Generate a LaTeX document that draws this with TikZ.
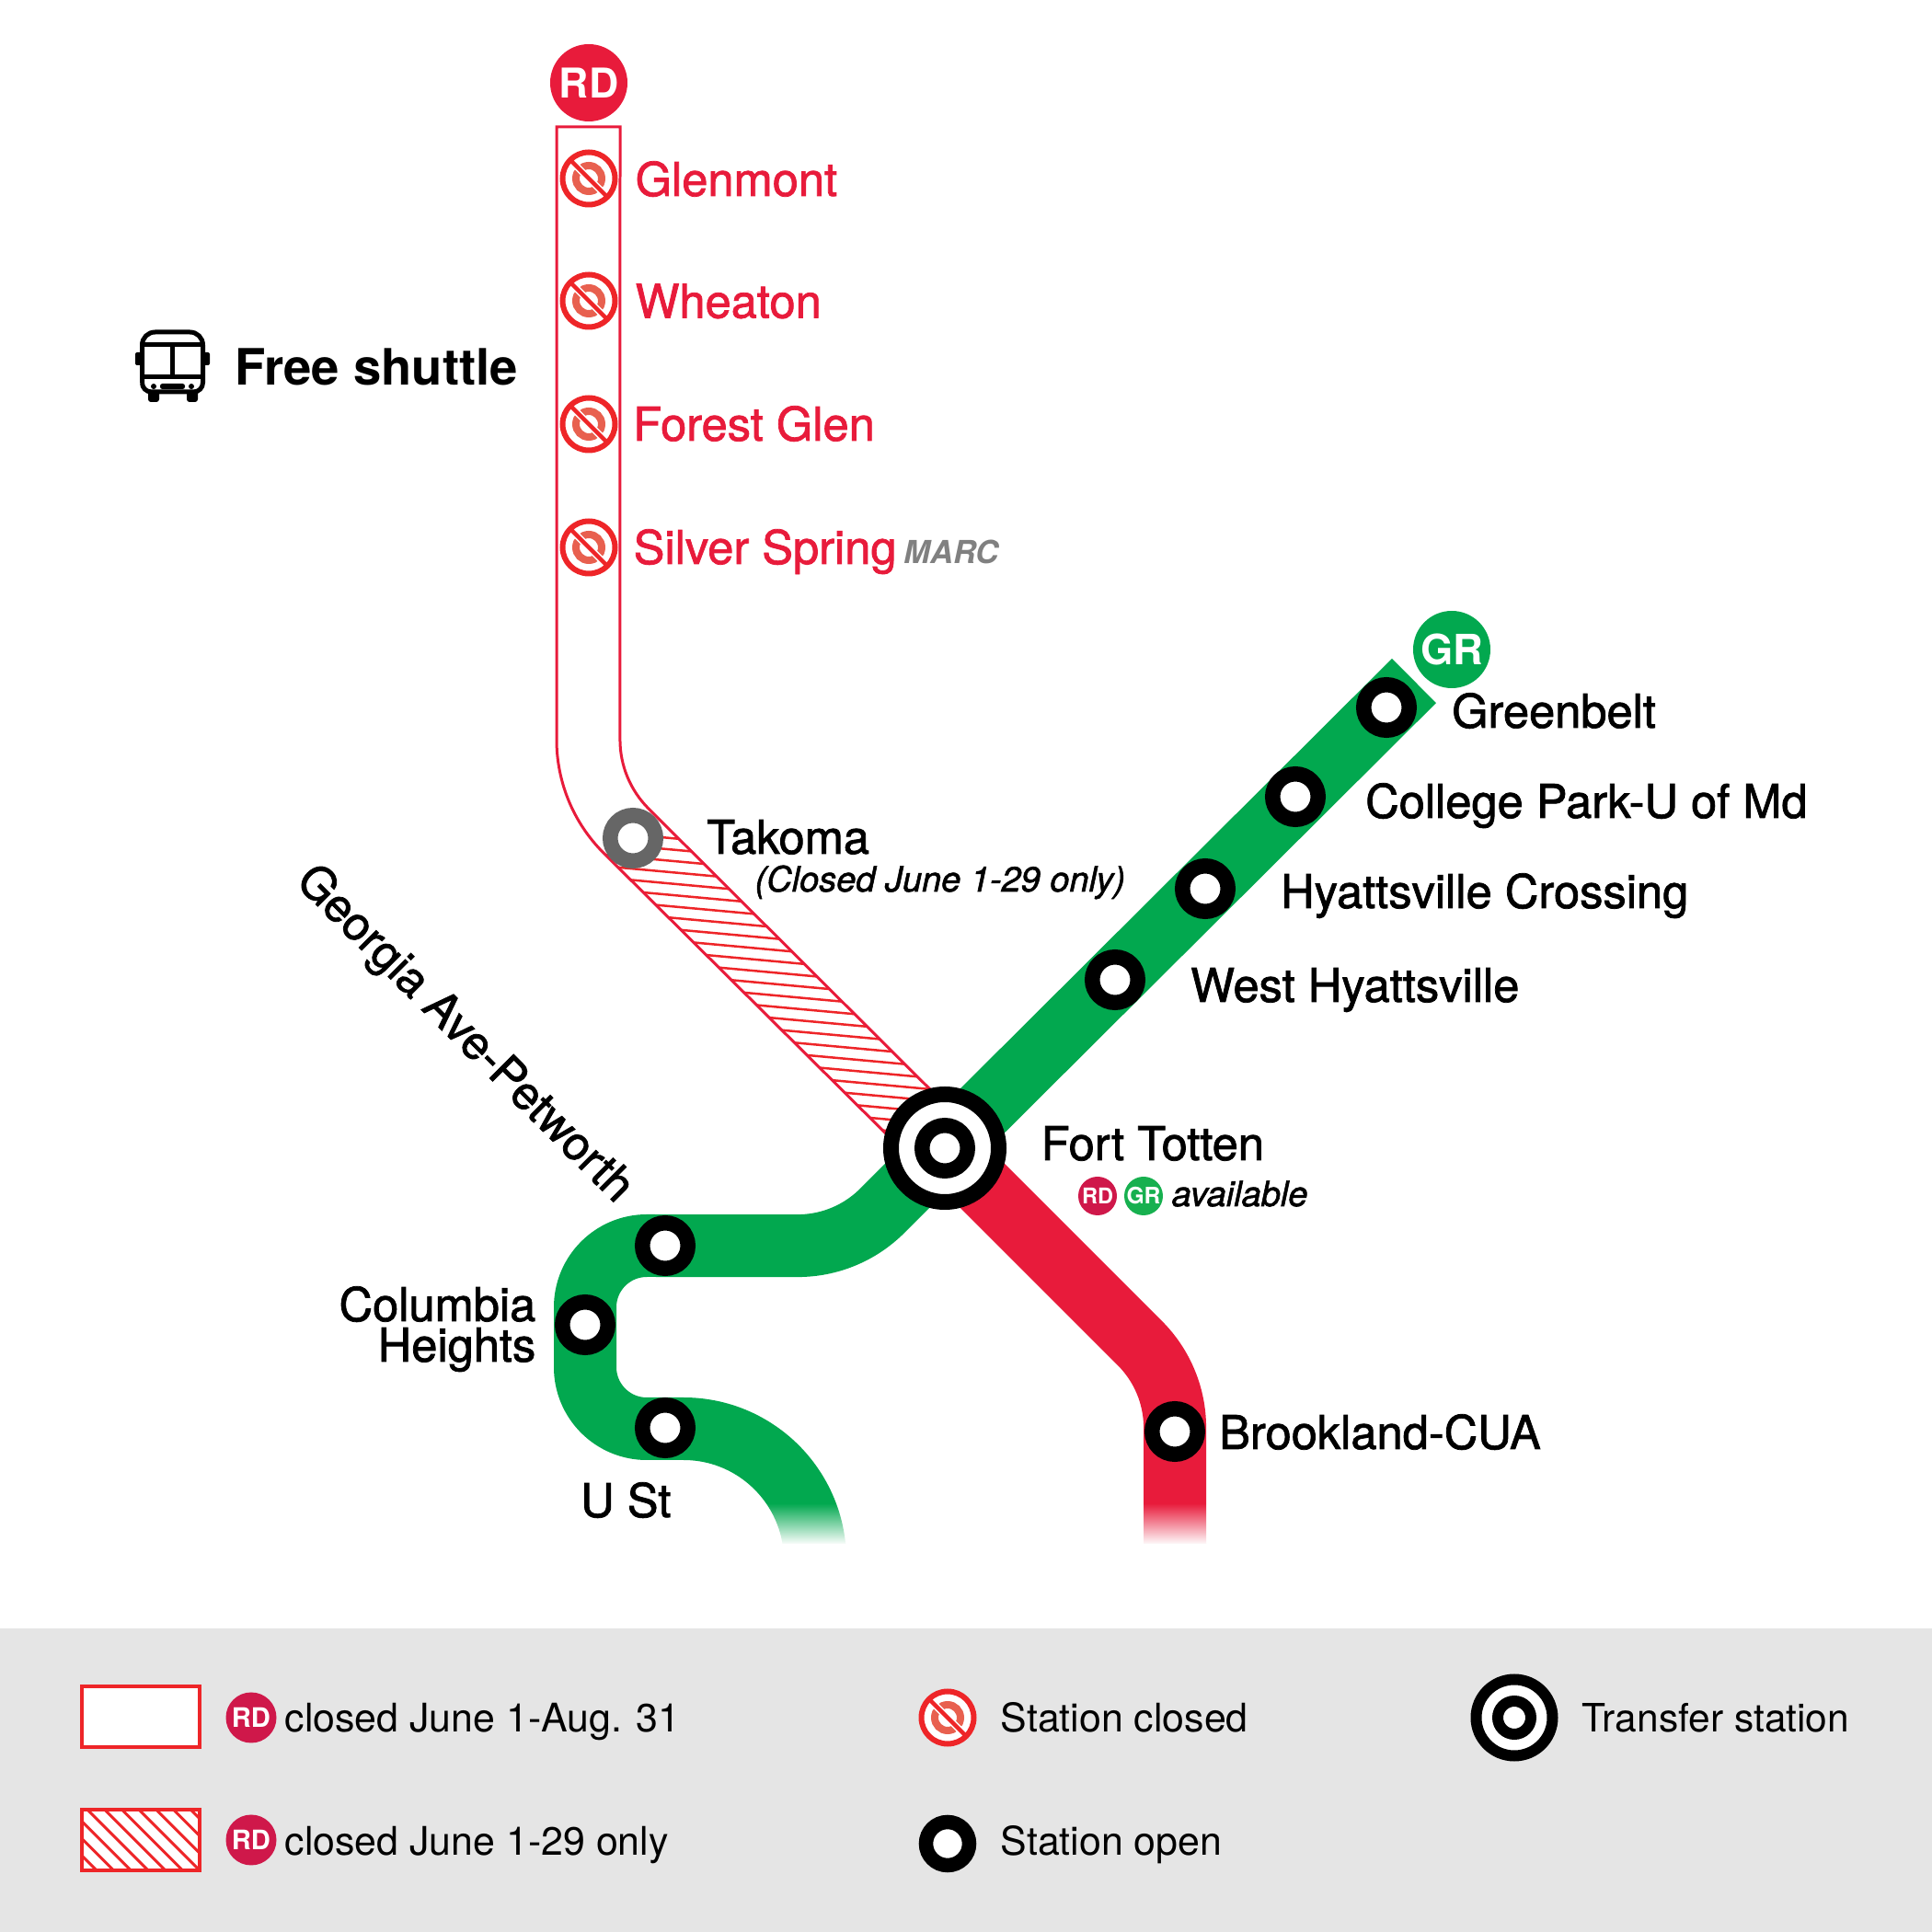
\documentclass[tikz,border=0pt]{standalone}
\usepackage{fontspec}
\setmainfont{TeX Gyre Heros}
\newfontfamily\medfont[FakeBold=1.5, ItalicFeatures={FakeBold=1.5}]{TeX Gyre Heros}
\usepackage{xcolor}
\usepackage{tikz}
\usetikzlibrary{fadings}
\definecolor{lineRed}{HTML}{E81B3B}
\definecolor{lineGreen}{HTML}{02A84F}
\definecolor{hatchRed}{HTML}{EE2528}
\definecolor{dimRed}{HTML}{E8604F}
\definecolor{badgeRed}{HTML}{CF184A}
\definecolor{badgeGreen}{HTML}{17B04F}
\tikzfading[name=fadeout, top color=transparent!100, bottom color=transparent!0]

\begin{document}
\begin{tikzpicture}[
  stnopen/.style={circle, draw=black, fill=white, line width=0.165cm, minimum size=0.495cm, inner sep=0pt},
  stntakoma/.style={stnopen, draw=black!60},
  xferring/.style={circle, draw=black, fill=white, inner sep=0pt},
  stnclosed/.style={circle, draw=hatchRed, fill=white, line width=0.06cm, minimum size=0.57cm, inner sep=0pt,
    path picture={
      \begin{scope}[shift={(path picture bounding box.center)}]
        \draw[dimRed, line width=0.08cm] (0,0) circle (0.14);
        \draw[white, line width=0.075cm] (-0.25,0.25) -- (0.25,-0.25);
        \draw[hatchRed, line width=0.045cm] (-0.25,0.25) -- (0.25,-0.25);
      \end{scope}}},
  badge/.style={circle, fill=#1, text=white, inner sep=0pt, font=\bfseries},
  stnlabel/.style={anchor=base west, inner sep=0pt, font=\medfont\fontsize{14.4}{16}\selectfont},
  stnlabelr/.style={stnlabel, text=lineRed},
  legendtxt/.style={anchor=base west, inner sep=0pt, font=\fontsize{12.2}{14}\selectfont},
  noteit/.style={anchor=base west, inner sep=0pt, font=\medfont\itshape\fontsize{10.8}{12}\selectfont},
  greenline/.style={draw=lineGreen, line width=0.68cm},
  redline/.style={draw=lineRed, line width=0.68cm},
  hatchline/.style={draw=hatchRed, line width=0.025cm},
  closedline/.style={draw=lineRed, line width=0.03cm}
]
\useasboundingbox (0,0) rectangle (21,21);

% Line ends
\coordinate (fortpt) at (10.27, 8.52);
\coordinate (grend) at (15.37, 13.60);

% Closed section
\begin{scope}
  \clip (6.56,11.73) -- (10.03,8.28) -- (10.51,8.76) -- (7.05,12.21) -- cycle;
  \foreach \i in {-3,...,23}
    \draw[hatchline] ({6.63+.136*\i},{11.58-.136*\i}) -- ++(1.2,-.11);
\end{scope}
\draw[closedline] (6.05,19.62) -- (6.05,12.96) arc[start angle=180, end angle=225, radius=1.74]
  -- (10.03,8.28) -- (10.51,8.76) -- (7.05,12.21) arc[start angle=225, end angle=180, radius=1.06]
  -- (6.74,19.62) -- cycle;

% Open lines
\draw[greenline] (grend) -- (fortpt);
\draw[greenline] (fortpt) -- (9.59,7.84) arc[start angle=315, end angle=270, radius=1.3]
  -- (7.03,7.46) arc[start angle=90, end angle=180, radius=.67]
  -- (6.36,6.14) arc[start angle=180, end angle=270, radius=.67]
  -- (7.43,5.47) arc[start angle=90, end angle=0, radius=1.43] -- (8.86,3.9);
\draw[redline] (fortpt) -- (12.39,6.40) arc[start angle=45, end angle=0, radius=1.3] -- (12.77,3.9);

% Line ends fade out
\fill[white, path fading=fadeout] (8.2,4.21) rectangle (9.4,4.66);
\fill[white, path fading=fadeout] (12.3,4.21) rectangle (13.3,4.66);
\fill[white] (8.2,3.85) rectangle (9.4,4.22);
\fill[white] (12.3,3.85) rectangle (13.3,4.22);

% Stations
\node[xferring, line width=0.17cm, minimum size=1.17cm] (fort) at (fortpt) {};
\node[stnopen] (fortin) at (fortpt) {};
\node[stnopen] (greenbelt) at (15.07, 13.31) {};
\node[stnopen] (college) at (14.08, 12.34) {};
\node[stnopen] (hyattsville) at (13.10, 11.34) {};
\node[stnopen] (westhy) at (12.12, 10.35) {};
\node[stnopen] (petworth) at (7.23, 7.46) {};
\node[stnopen] (columbia) at (6.36, 6.60) {};
\node[stnopen] (ust) at (7.23, 5.48) {};
\node[stnopen] (brookland) at (12.77, 5.44) {};
\node[stntakoma] (takoma) at (6.88, 11.89) {};
\node[stnclosed] (glenmont) at (6.40, 19.06) {};
\node[stnclosed] (wheaton) at (6.40, 17.73) {};
\node[stnclosed] (forest) at (6.40, 16.39) {};
\node[stnclosed] (silver) at (6.40, 15.05) {};

% Line badges
\node[badge=lineRed, minimum size=0.84cm, font=\bfseries\fontsize{12.7}{14}\selectfont] (rdtop) at (6.40, 20.10) {RD};
\node[badge=lineGreen, minimum size=0.84cm, font=\bfseries\fontsize{12.9}{14}\selectfont] (grtop) at (15.78, 13.94) {GR};
\node[badge=badgeRed, minimum size=0.42cm, font=\bfseries\fontsize{6.7}{8}\selectfont] (rdfort) at (11.93, 8.00) {RD};
\node[badge=badgeGreen, minimum size=0.42cm, font=\bfseries\fontsize{7}{8}\selectfont] (grfort) at (12.43, 8.00) {GR};

% Station names
\node[stnlabelr] (lbglen) at (6.90, 18.87) {Glenmont};
\node[stnlabelr] (lbwheat) at (6.90, 17.545) {Wheaton};
\node[stnlabelr] (lbforest) at (6.875, 16.21) {Forest Glen};
\node[stnlabelr] (lbsilver) at (6.88, 14.87) {Silver Spring};
\node[anchor=base west, text=black!50, font=\bfseries\itshape\fontsize{9.8}{12}\selectfont, inner sep=0pt] (marc) at (9.82, 14.87) {MARC};
\node[stnlabel] (lbgreen) at (15.775, 13.09) {Greenbelt};
\node[stnlabel] (lbcollege) at (14.835, 12.11) {College Park-U of Md};
\node[stnlabel] (lbhyatt) at (13.915, 11.13) {Hyattsville Crossing};
\node[stnlabel] (lbwest) at (12.935, 10.11) {West Hyattsville};
\node[stnlabel] (lbtakoma) at (7.675, 11.72) {Takoma};
\node[noteit] (lbonly) at (8.20, 11.31) {(Closed June 1-29 only)};
\node[stnlabel] (lbfort) at (11.31, 8.39) {Fort Totten};
\node[noteit] (lbavail) at (12.73, 7.89) {available};
\node[stnlabel] (lbbrook) at (13.245, 5.25) {Brookland-CUA};
\node[stnlabel] (lbust) at (6.305, 4.51) {U St};
\node[stnlabel, anchor=base east] (lbcol) at (5.83, 6.64) {Columbia};
\node[stnlabel, anchor=base east] (lbhts) at (5.83, 6.20) {Heights};
\node[stnlabel, anchor=center, rotate=-45] (lbgeorgia) at (5.04, 9.75) {Georgia Ave-Petworth};

% Shuttle
\node[anchor=base west, inner sep=0pt, font=\bfseries\fontsize{15.5}{18}\selectfont] (lbshuttle) at (2.545, 16.81) {Free shuttle};
\fill[black, rounded corners=0.02cm] (1.47,17.17) rectangle (1.54,17.03);
\fill[black, rounded corners=0.02cm] (2.21,17.17) rectangle (2.28,17.03);
\fill[black, rounded corners=0.03cm] (1.61,16.76) rectangle (1.73,16.63);
\fill[black, rounded corners=0.03cm] (2.03,16.76) rectangle (2.15,16.63);
\draw[black, line width=0.05cm, fill=white] (1.545,16.84) -- (1.545,17.25) arc[start angle=180, end angle=90, radius=.14]
  -- (2.065,17.39) arc[start angle=90, end angle=0, radius=.14] -- (2.205,16.84)
  arc[start angle=0, end angle=-90, radius=.1] -- (1.645,16.74) arc[start angle=270, end angle=180, radius=.1] -- cycle;
\draw[black, line width=0.05cm] (1.545,17.25) -- (2.205,17.25) (1.545,16.90) -- (2.205,16.90) (1.875,17.25) -- (1.875,16.90);
\fill[black] (1.67,16.80) circle (0.03) (2.08,16.80) circle (0.03);
\fill[black, rounded corners=0.025cm] (1.74,16.83) rectangle (2.01,16.77);

% Legend
\fill[black!10] (0,0) rectangle (21,3.30);
\draw[draw=hatchRed, line width=0.04cm, fill=white] (0.89,2.67) rectangle (2.17,2.01);
\fill[white] (0.89,1.33) rectangle (2.17,0.67);
\begin{scope}
  \clip (0.89,1.33) rectangle (2.17,0.67);
  \foreach \i in {-4,...,6}
    \draw[draw=hatchRed, line width=0.03cm] ({0.94+.187*\i},1.34) -- ++(.8,-.8);
\end{scope}
\draw[draw=hatchRed, line width=0.04cm] (0.89,1.33) rectangle (2.17,0.67);
\node[badge=badgeRed, minimum size=0.55cm, font=\bfseries\fontsize{8.3}{10}\selectfont] (rdlega) at (2.73, 2.33) {RD};
\node[badge=badgeRed, minimum size=0.55cm, font=\bfseries\fontsize{8.3}{10}\selectfont] (rdlegb) at (2.73, 1.00) {RD};
\node[legendtxt] (txa) at (3.09, 2.17) {closed June 1-Aug. 31};
\node[legendtxt] (txb) at (3.09, 0.84) {closed June 1-29 only};
\node[stnclosed] (legclosed) at (10.30, 2.33) {};
\node[stnopen, line width=0.155cm, minimum size=0.47cm] (legopen) at (10.30, 0.96) {};
\node[legendtxt] (txc) at (10.87, 2.17) {Station closed};
\node[legendtxt] (txd) at (10.87, 0.83) {Station open};
\node[xferring, line width=0.12cm, minimum size=0.83cm] (legxfer) at (16.46, 2.33) {};
\node[circle, draw=black, fill=white, line width=0.12cm, minimum size=0.36cm, inner sep=0pt] (legxferin) at (legxfer) {};
\node[legendtxt, font=\fontsize{12.1}{14}\selectfont] (txe) at (17.19, 2.17) {Transfer station};

\end{tikzpicture}
\end{document}
